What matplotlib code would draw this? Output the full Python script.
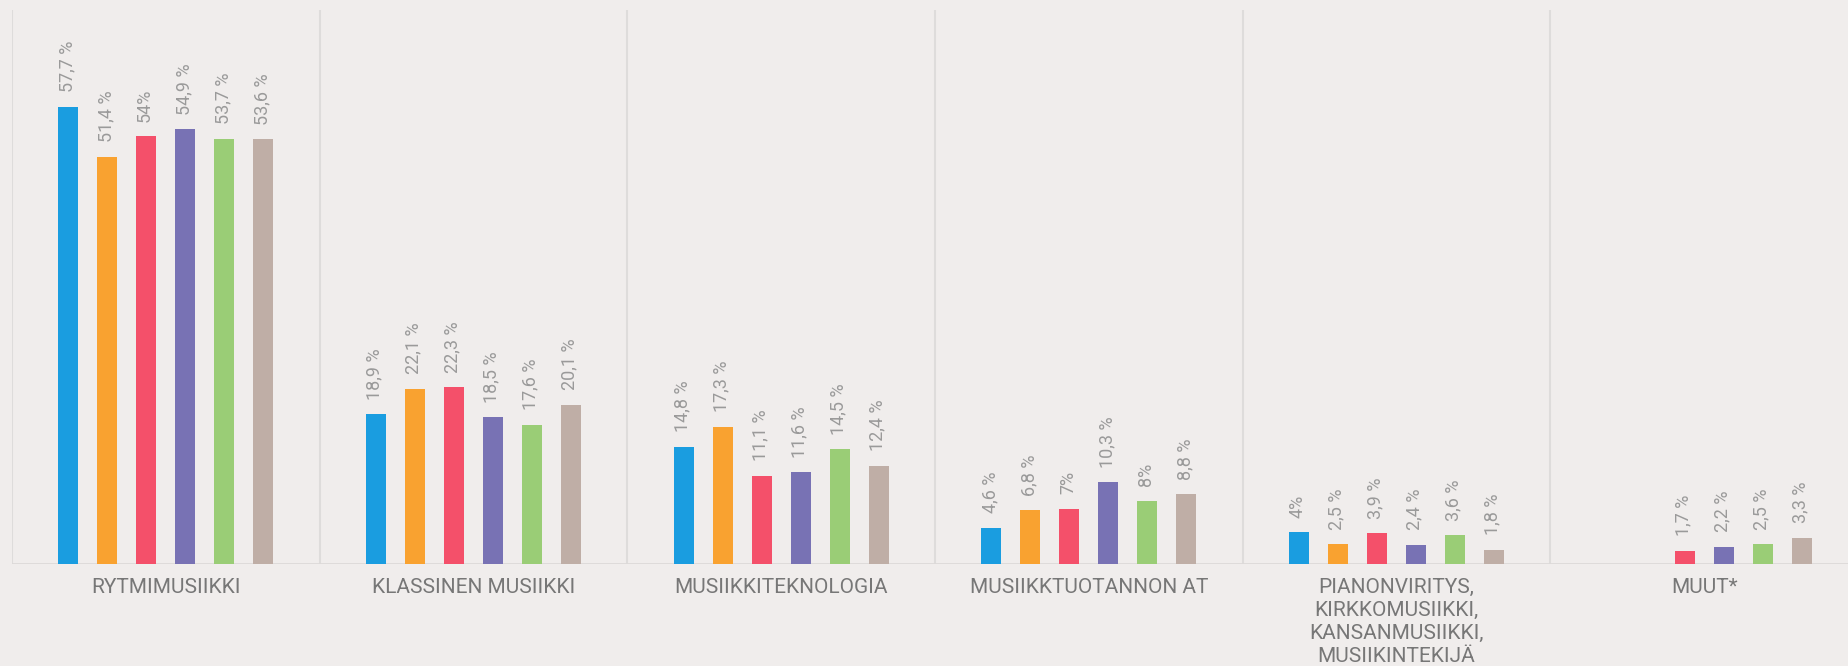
import matplotlib
matplotlib.use("Agg")
import matplotlib.pyplot as plt
import numpy as np

categories = [
    "RYTMIMUSIIKKI",
    "KLASSINEN MUSIIKKI",
    "MUSIIKKITEKNOLOGIA",
    "MUSIIKKTUOTANNON AT",
    "PIANONVIRITYS,\nKIRKKOMUSIIKKI,\nKANSANMUSIIKKI,\nMUSIIKINTEKIJÄ",
    "MUUT*",
]
series_1 = [57.7, 18.9, 14.8, 4.6, 4.0, None]
series_2 = [51.4, 22.1, 17.3, 6.8, 2.5, None]
series_3 = [54.0, 22.3, 11.1, 7.0, 3.9, 1.7]
series_4 = [54.9, 18.5, 11.6, 10.3, 2.4, 2.2]
series_5 = [53.7, 17.6, 14.5, 8.0, 3.6, 2.5]
series_6 = [53.6, 20.1, 12.4, 8.8, 1.8, 3.3]
series = [series_1, series_2, series_3, series_4, series_5, series_6]
colors = ["#1a9de0", "#f9a230", "#f4506a", "#7872b4", "#9acd76", "#bfaea6"]

bg = "#f0edec"
fig = plt.figure(figsize=(18.48, 6.66), dpi=100, facecolor=bg)
ax = fig.add_axes([12 / 1848, 102 / 666, 1846 / 1848, 554.5 / 666])
ax.set_facecolor(bg)

n = len(categories)
slot = 39 / 307.67
width = 20 / 307.67
centers = np.arange(n) + 0.5


def fmt(v):
    if abs(v - round(v)) < 1e-9:
        return f"{int(round(v))}%"
    return f"{v:.1f}".replace(".", ",") + " %"


for k, (vals, c) in enumerate(zip(series, colors)):
    for i, v in enumerate(vals):
        if v is None:
            continue
        x = centers[i] + (k - 2.5) * slot
        ax.bar(x, v, width=width, color=c, zorder=3)
        ax.annotate(fmt(v), (x, v), xytext=(-1, 10.5), textcoords="offset points",
                    rotation=90, ha="center", va="bottom", fontsize=13,
                    color="#9a9a9a", family="Roboto")

ax.vlines(np.arange(n + 1), 0, 70, color="#dedcdb", lw=1.5, zorder=1)
ax.axhline(0, color="#dcd9d8", lw=2, zorder=2)

ax.set_xlim(0, n)
ax.set_ylim(0, 70)
ax.set_xticks(centers)
ax.set_xticklabels(categories, fontsize=15, color="#777777", family="Roboto",
                   linespacing=1.26)
ax.tick_params(axis="x", length=0, pad=10)
ax.set_yticks([])
for s in ax.spines.values():
    s.set_visible(False)

fig.savefig("out.png", dpi=100, facecolor=bg)
